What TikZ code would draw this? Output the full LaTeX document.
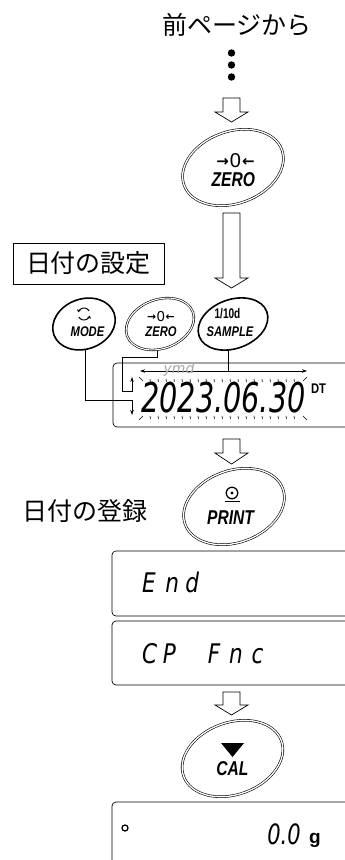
\documentclass[tikz,border=0pt]{standalone}
\usepackage{fontspec}
\usetikzlibrary{shapes.geometric,arrows.meta,backgrounds}
\newfontfamily\jpfont{Noto Sans CJK JP}
\newfontfamily\keyfont{Liberation Sans}
\newfontfamily\segfont{DejaVu Sans}
\newfontfamily\symfont{DejaVu Sans}
\newcommand\zsymbol{{\symfont\bfseries\fontsize{15}{15}\selectfont\raisebox{1.5pt}{→}}\hspace{1pt}{\keyfont\fontsize{20}{20}\selectfont 0}\hspace{1pt}{\symfont\bfseries\fontsize{15}{15}\selectfont\raisebox{1.5pt}{←}}}
\newcommand\hollowdown[4]{%
  \draw[openarrow] ({#1-8.5},#2) -- ({#1+8.5},#2) -- ({#1+8.5},#3) -- ({#1+16.5},#3) -- (#1,#4) -- ({#1-16.5},#3) -- ({#1-8.5},#3) -- cycle;}
\tikzset{
  jptext/.style={font=\jpfont\fontsize{25}{25}\selectfont, inner sep=0pt},
  bigkey/.style={ellipse, draw, double=white, double distance=1.3pt, line width=0.6pt, fill=white,
    minimum width=104pt, minimum height=72pt, rotate=20, inner sep=0pt},
  smallkey/.style={ellipse, draw, line width=1.6pt, fill=white, rotate=20, inner sep=0pt},
  smallkeyd/.style={ellipse, draw, double=white, double distance=1.1pt, line width=0.6pt, fill=white, rotate=20, inner sep=0pt},
  keylabel/.style={font=\keyfont\bfseries\itshape\fontsize{20}{20}\selectfont, xscale=0.78, inner sep=0pt},
  smalllabel/.style={font=\keyfont\bfseries\itshape\fontsize{14}{14}\selectfont, xscale=0.8, inner sep=0pt},
  openarrow/.style={draw, line width=0.7pt, fill=white},
  lcd/.style={draw, line width=0.7pt, rounded corners=4pt},
  segtext/.style={font=\segfont\itshape\fontsize{27}{27}\selectfont, xscale=0.8, inner sep=0pt},
  conn/.style={line width=0.7pt},
  arrowend/.style={-{Stealth[length=5pt,width=3.5pt]}},
  arrowboth/.style={{Stealth[length=5pt,width=3.5pt]}-{Stealth[length=5pt,width=3.5pt]}}
}
\begin{document}
\begin{tikzpicture}[x=1pt,y=-1pt]
\useasboundingbox (0,0) rectangle (345,860);
\clip (0,0) rectangle (345,860);

% header
\node (prev) [jptext] at (237,25) {前ページから};
\fill (231.5,53) circle (3.7pt);
\fill (231.5,65) circle (3.7pt);
\fill (231.5,77) circle (3.7pt);
\hollowdown{231.5}{98}{112}{122}

% big ZERO key
\node (zerobig) [bigkey] at (233,167.5) {};
\node (zerobigsym) [inner sep=0] at (235.5,161) {\zsymbol};
\node (zerobiglbl) [keylabel] at (233.3,180) {ZERO};

\hollowdown{231.5}{213}{278}{288}

% date setting label
\node (setlabel) [jptext, draw, line width=0.8pt, minimum width=151pt, minimum height=41pt] at (88.5,263.5) {日付の設定\hspace{8pt}};

% small keys
\node (modebtn) [smallkey, minimum width=64pt, minimum height=50pt] at (84,324) {};
\node (zerobtn) [smallkeyd, minimum width=70pt, minimum height=49pt] at (160,324) {};
\node (samplebtn) [smallkey, minimum width=72pt, minimum height=49pt] at (233,324) {};

\coordinate (mic) at (84,314);
\draw[line width=1pt, -{Stealth[length=3pt,width=3.8pt]}] ([shift={(30:6pt)}]mic) arc[start angle=30, end angle=165, radius=6pt];
\draw[line width=1pt, -{Stealth[length=3pt,width=3.8pt]}] ([shift={(210:6pt)}]mic) arc[start angle=210, end angle=345, radius=6pt];
\node (modelbl) [smalllabel] at (87.5,332) {MODE};
\node (zerosym) [inner sep=0, scale=0.72] at (161,316.5) {\zsymbol};
\node (zerolbl) [smalllabel] at (161,332) {ZERO};
\node (samplesym) [font=\keyfont\bfseries\fontsize{14}{14}\selectfont, xscale=0.72, inner sep=0] at (227.5,314) {1/10d};
\node (samplelbl) [smalllabel] at (230,332) {SAMPLE};

% date display
\draw[lcd] (360,363) -- (113,363) -- (113,427) -- (360,427);
\node (ymd) [font=\segfont\itshape\fontsize{14}{14}\selectfont, text=black!35, inner sep=0] at (179,370) {ymd};
\node (date) [font=\segfont\itshape\fontsize{41}{41}\selectfont, xscale=0.7, inner sep=0] at (223.5,398) {2023.06.30};
\node (dt) [font=\keyfont\bfseries\fontsize{14}{14}\selectfont, xscale=0.8, inner sep=0] at (318.5,389) {DT};
\foreach \x in {150,158,...,298} {
  \draw[line width=0.6pt] (\x,379) -- ({\x+0.4},382);
  \draw[line width=0.6pt] (\x,416) -- ({\x+0.4},419);
}
\draw[line width=0.6pt] (139,377) -- (143,381);
\draw[line width=0.6pt] (303,381) -- (307,377);
\draw[line width=0.6pt] (139,420) -- (143,416);
\draw[line width=0.6pt] (303,416) -- (307,420);

\coordinate (harrL) at (140,371);
\coordinate (harrR) at (307,371);
\coordinate (sj) at (228,371);
\coordinate (zj1) at (122,357);
\coordinate (zj2) at (132,391);
\coordinate (zend) at (132,377);
\coordinate (mj) at (132,400);
\coordinate (mend) at (132,415);

\begin{scope}[on background layer]
  \draw[conn] ([xshift=1pt]modebtn.center) |- (mj);
  \draw[conn, arrowend] (mj) -- (mend);
  \draw[conn, arrowend] ([xshift=-3pt]zerobtn.center) |- (zj1) |- (zj2) -- (zend);
  \draw[conn] (samplebtn.center -| sj) -- (sj);
  \draw[conn, arrowboth] (harrL) -- (harrR);
\end{scope}

\hollowdown{231.5}{439}{453}{464}

% PRINT key
\node (registerlbl) [jptext] at (85,511) {日付の登録};
\node (printbtn) [bigkey] at (234,506.5) {};
\node (printicon) [circle, draw, line width=1.3pt, minimum size=11.5pt, inner sep=0] at (232,493) {};
\fill (printicon.center) circle (1.7pt);
\draw[line width=1.6pt] (224.5,501.5) -- (239.5,501.5);
\node (printlbl) [keylabel] at (230.5,517.5) {PRINT};

% End display
\draw[lcd] (360,551) -- (112,551) -- (112,616) -- (360,616);
\node (endtxt) [segtext, anchor=west] at (142,582) {E\hspace{12pt}n\hspace{8pt}d};

% CP Fnc display
\draw[lcd] (360,621) -- (112,621) -- (112,685) -- (360,685);
\node (cpfnc) [segtext, anchor=west] at (142,653.5) {C\hspace{7pt}P\hspace{40pt}F\hspace{11pt}n\hspace{11pt}c};

\hollowdown{231.5}{692}{705}{715}

% CAL key
\node (calbtn) [bigkey] at (232.5,758.5) {};
\fill (221,743) -- (244,743) -- (232.5,757) -- cycle;
\node (callbl) [keylabel] at (232.5,769) {CAL};

% final display
\draw[lcd] (360,802) -- (112,802) -- (112,870);
\node (stable) [circle, draw, line width=1.3pt, minimum size=6pt, inner sep=0] at (125,828) {};
\node (zeroval) [font=\segfont\itshape\fontsize{28}{28}\selectfont, xscale=0.75, inner sep=0] at (284,834.5) {0.0};
\node (gunit) [font=\keyfont\bfseries\fontsize{19}{19}\selectfont, anchor=base, inner sep=0] at (315,843) {g};
\end{tikzpicture}
\end{document}
